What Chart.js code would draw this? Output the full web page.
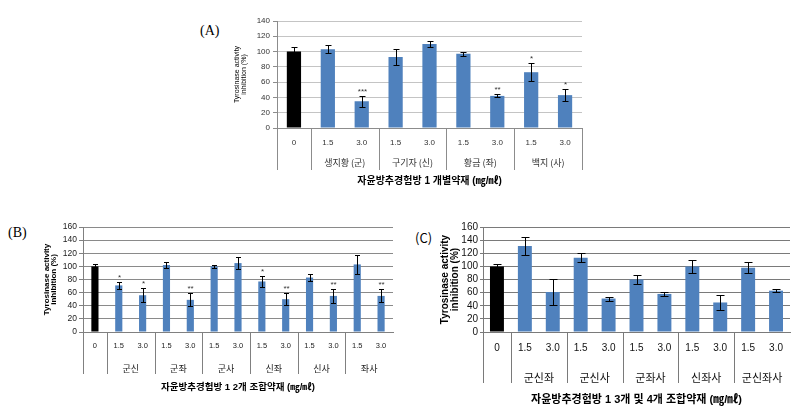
<!DOCTYPE html>
<html>
<head>
<meta charset="utf-8">
<script src="https://cdn.jsdelivr.net/npm/chart.js@4/dist/chart.umd.min.js"></script>
<style>
  body { margin: 0; background: #fff; width: 807px; height: 414px; position: relative; overflow: hidden; }
  canvas { position: absolute; }
  .tag { position: absolute; font-family: "Liberation Serif", serif; font-size: 14px; color: #000; line-height: 1; }
</style>
</head>
<body>
<div class="tag" style="left:200px;top:24px">(A)</div>
<div class="tag" style="left:8px;top:226px">(B)</div>
<div class="tag" style="left:415px;top:231px;font-family:'Noto Sans CJK KR',sans-serif;font-size:13px">(C)</div>

<canvas id="chartA" width="365" height="185" style="left:225px;top:8px"></canvas>
<canvas id="chartB" width="405" height="180" style="left:0px;top:215px"></canvas>
<canvas id="chartC" width="392" height="199" style="left:410px;top:215px"></canvas>

<script>
// (A) single herbs
const labelsA = ['0', '1.5', '3.0', '1.5', '3.0', '1.5', '3.0', '1.5', '3.0']
const groupsA = ['생지황 (군)', '구기자 (신)', '황금 (좌)', '백지 (사)']
const valuesA = [100, 103, 35, 93, 110, 97, 42, 73, 43]
const errorsA = [6, 5, 7, 10, 4, 3, 2, 12, 8]
const starsA = ['', '', '***', '', '', '', '**', '*', '*']

// (B) two-herb combinations
const labelsB = ['0', '1.5', '3.0', '1.5', '3.0', '1.5', '3.0', '1.5', '3.0', '1.5', '3.0', '1.5', '3.0']
const groupsB = ['군신', '군좌', '군사', '신좌', '신사', '좌사']
const valuesB = [100, 71, 56, 102, 49, 100, 105, 77, 50, 83, 55, 103, 55]
const errorsB = [4, 5, 11, 4, 10, 2, 9, 9, 9, 5, 11, 14, 10]
const starsB = ['', '*', '*', '', '**', '', '', '*', '**', '', '**', '', '**']

// (C) three and four-herb combinations
const labelsC = ['0', '1.5', '3.0', '1.5', '3.0', '1.5', '3.0', '1.5', '3.0', '1.5', '3.0']
const groupsC = ['군신좌', '군신사', '군좌사', '신좌사', '군신좌사']
const valuesC = [100, 131, 61, 113, 51, 80, 58, 100, 45, 98, 63]
const errorsC = [4, 14, 20, 7, 3, 7, 3, 10, 11, 8, 2]
const starsC = ['', '', '', '', '', '', '', '', '', '', '']

Chart.defaults.font.family = '"Liberation Sans", "Noto Sans CJK KR", sans-serif'

// error bars, asterisks and the two-row category table under the x axis
const extras = {
  id: 'extras',
  afterDraw(chart, args, o) {
    const ctx = chart.ctx
    const x = chart.scales.x, y = chart.scales.y
    const vals = chart.data.datasets[0].data
    const area = chart.chartArea

    ctx.save()
    ctx.strokeStyle = '#000'
    ctx.lineWidth = 1
    ctx.fillStyle = o.starColor
    ctx.font = o.starFont
    ctx.textAlign = 'center'
    ctx.textBaseline = 'bottom'
    vals.forEach((v, i) => {
      const cx = Math.round(x.getPixelForValue(i)) + 0.5
      const top = Math.round(y.getPixelForValue(v + o.errors[i])) + 0.5
      const bot = Math.round(y.getPixelForValue(v - o.errors[i])) + 0.5
      ctx.beginPath()
      ctx.moveTo(cx, top); ctx.lineTo(cx, bot)
      ctx.moveTo(cx - o.cap, top); ctx.lineTo(cx + o.cap, top)
      ctx.moveTo(cx - o.cap, bot); ctx.lineTo(cx + o.cap, bot)
      ctx.stroke()
      if (o.stars[i]) ctx.fillText(o.stars[i], cx, top - 1)
    })

    // separators between groups
    ctx.strokeStyle = o.lineColor
    const n = vals.length
    const seps = [area.left]
    for (let i = 0; i < n - 1; i += 2) {
      seps.push((x.getPixelForValue(i) + x.getPixelForValue(i + 1)) / 2)
    }
    if (o.rightEdge) seps.push(area.right)
    ctx.beginPath()
    seps.forEach(sx => {
      const px = Math.round(sx) + 0.5
      ctx.moveTo(px, area.bottom)
      ctx.lineTo(px, area.bottom + o.sepLength)
    })
    ctx.stroke()

    // group names
    ctx.fillStyle = o.groupColor
    ctx.font = o.groupFont
    ctx.textBaseline = 'middle'
    o.groups.forEach((g, k) => {
      const gx = (x.getPixelForValue(1 + 2 * k) + x.getPixelForValue(2 + 2 * k)) / 2
      ctx.fillText(g, gx, area.bottom + o.groupOffset)
    })
    ctx.restore()
  }
}

function makeChart(id, labels, values, errors, stars, groups, s) {
  return new Chart(document.getElementById(id), {
    type: 'bar',
    data: {
      labels: labels,
      datasets: [{
        data: values,
        backgroundColor: values.map((v, i) => i == 0 ? '#000000' : '#4f81bd'),
        barPercentage: s.bar,
        categoryPercentage: 1
      }]
    },
    options: {
      responsive: false,
      animation: false,
      layout: { padding: { top: s.padTop, right: s.padRight, left: 0, bottom: 0 } },
      plugins: {
        legend: { display: false },
        tooltip: { enabled: false },
        extras: {
          errors: errors, stars: stars, groups: groups,
          cap: s.cap, starFont: s.starFont, starColor: '#333',
          lineColor: s.lineColor, sepLength: s.sepLength, rightEdge: s.rightEdge,
          groupFont: s.groupFont, groupColor: s.textColor, groupOffset: s.groupOffset
        }
      },
      scales: {
        x: {
          grid: { display: false, drawTicks: false },
          border: { color: s.lineColor },
          ticks: { font: { size: s.xTick }, color: s.textColor, padding: s.xTickPad, autoSkip: false, maxRotation: 0 },
          title: {
            display: true,
            text: s.xTitle,
            font: { size: s.xTitleSize, weight: 'bold' },
            color: '#000',
            padding: { top: 0, bottom: s.xTitlePad }
          },
          afterFit(sc) { sc.height = s.xHeight }
        },
        y: {
          min: 0,
          max: s.max,
          ticks: { stepSize: 20, autoSkip: false, font: { size: s.yTick }, color: s.textColor, padding: s.yTickPad },
          grid: { color: s.gridColor, tickColor: s.lineColor, tickLength: s.tickLength },
          border: { color: s.lineColor },
          title: {
            display: true,
            text: ['Tyrosinase activity', 'inhibition (%)'],
            font: { size: s.yTitleSize, weight: s.yTitleWeight, lineHeight: s.yTitleLH },
            color: '#000',
            padding: { top: s.yTitlePad, bottom: 0 }
          },
          afterFit(sc) { sc.width = s.yWidth }
        }
      }
    },
    plugins: [extras]
  })
}

makeChart('chartA', labelsA, valuesA, errorsA, starsA, groupsA, {
  bar: 0.42, padTop: 13, padRight: 8, yWidth: 52, xHeight: 65, max: 140,
  cap: 3, starFont: '8px "Liberation Sans"', lineColor: '#8c8c8c', gridColor: '#c4c4c4',
  sepLength: 42, rightEdge: true, groupFont: '9px "Noto Sans CJK KR"', groupOffset: 35,
  textColor: '#333', xTick: 8, xTickPad: 10, xTitle: '자윤방추경험방 1 개별약재 (㎎/㎖)',
  xTitleSize: 10, xTitlePad: 6, yTick: 8, yTickPad: 3, tickLength: 4,
  yTitleSize: 7, yTitleWeight: 'normal', yTitleLH: 1, yTitlePad: 9
})

makeChart('chartB', labelsB, valuesB, errorsB, starsB, groupsB, {
  bar: 0.3, padTop: 12, padRight: 12, yWidth: 83, xHeight: 63, max: 160,
  cap: 2.5, starFont: '8px "Liberation Sans"', lineColor: '#808080', gridColor: '#8a8a8a',
  sepLength: 42, rightEdge: false, groupFont: '9px "Noto Sans CJK KR"', groupOffset: 37,
  textColor: '#222', xTick: 7.5, xTickPad: 9, xTitle: '자윤방추경험방 1 2개 조합약재 (㎎/㎖)',
  xTitleSize: 9.5, xTitlePad: 2, yTick: 8.5, yTickPad: 2, tickLength: 4,
  yTitleSize: 8, yTitleWeight: 'bold', yTitleLH: 0.9, yTitlePad: 43
})

makeChart('chartC', labelsC, valuesC, errorsC, starsC, groupsC, {
  bar: 0.5, padTop: 12, padRight: 12, yWidth: 73, xHeight: 82, max: 160,
  cap: 4, starFont: '8px "Liberation Sans"', lineColor: '#7a7a7a', gridColor: '#7a7a7a',
  sepLength: 51, rightEdge: false, groupFont: '11px "Noto Sans CJK KR"', groupOffset: 46,
  textColor: '#111', xTick: 10, xTickPad: 10, xTitle: '자윤방추경험방 1 3개 및 4개 조합약재 (㎎/㎖)',
  xTitleSize: 11, xTitlePad: 7, yTick: 10, yTickPad: 2, tickLength: 3,
  yTitleSize: 10, yTitleWeight: 'bold', yTitleLH: 1, yTitlePad: 30
})
</script>
</body>
</html>
